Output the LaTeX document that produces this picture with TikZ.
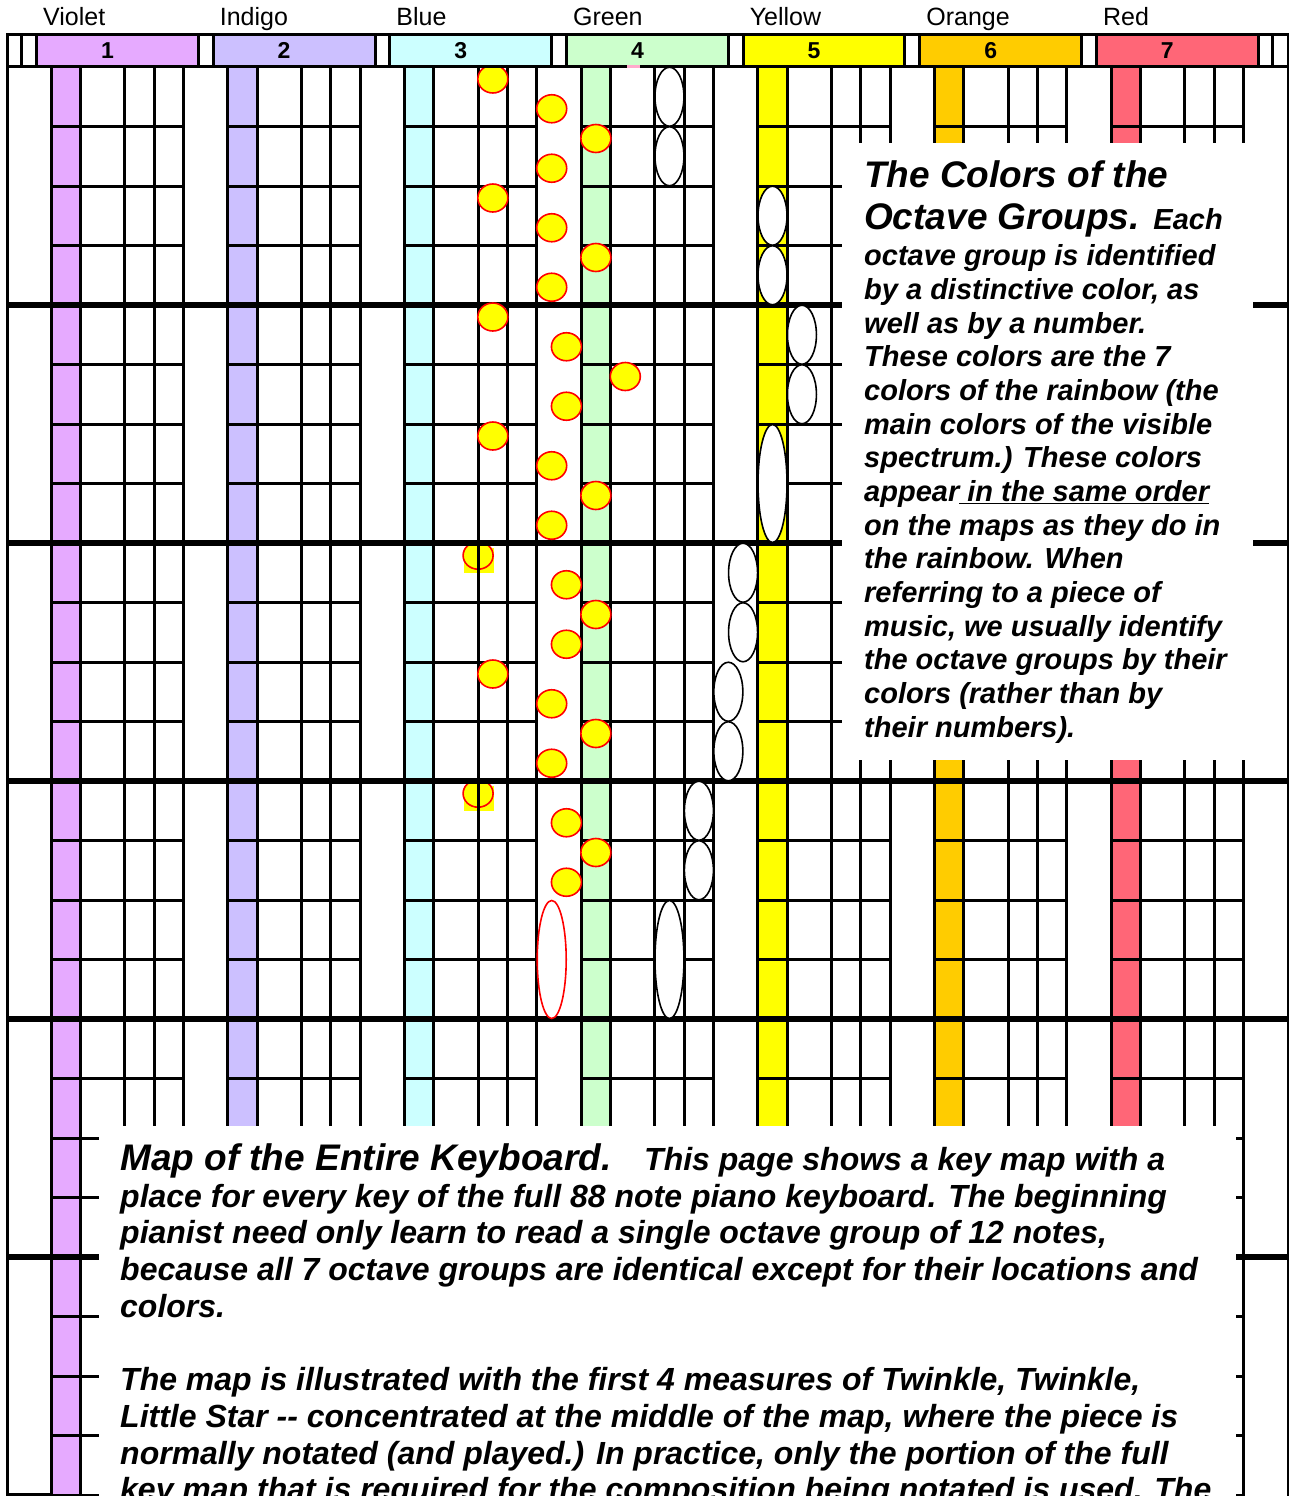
\documentclass[tikz,border=0pt]{standalone}
\usepackage{fontspec}
\setmainfont{Liberation Sans}
\usetikzlibrary{shapes.geometric}
\definecolor{cviolet}{HTML}{E6AAFF}
\definecolor{cindigo}{HTML}{CCC0FF}
\definecolor{cblue}{HTML}{CCFFFF}
\definecolor{cgreen}{HTML}{CCFFCC}
\definecolor{cyellow}{HTML}{FFFF00}
\definecolor{corange}{HTML}{FFCC00}
\definecolor{cred}{HTML}{FF6677}
\definecolor{cpink}{HTML}{FFAACC}
\begin{document}
\begin{tikzpicture}[x=1pt,y=-1pt,
  gl/.style={line width=3pt},
  gthick/.style={line width=6pt},
  eighthnote/.style={fill=cyellow,draw=red,line width=1.6pt},
  melnote/.style={fill=white,draw=black,line width=1.6pt},
  halfred/.style={fill=white,draw=red,line width=1.6pt},
  lbl/.style={anchor=base west,inner sep=0pt,font=\fontsize{25}{30}\selectfont},
  dig/.style={anchor=base,inner sep=0pt,font=\bfseries\fontsize{23}{28}\selectfont},
  rtxt/.style={anchor=base west,inner sep=0pt,font=\bfseries\itshape\fontsize{29}{33}\selectfont},
  btxt/.style={anchor=base west,inner sep=0pt,font=\bfseries\itshape\fontsize{32}{36}\selectfont},
  ttl/.style={anchor=base west,inner sep=0pt,font=\bfseries\itshape\fontsize{37}{40}\selectfont}]
\useasboundingbox (0,0) rectangle (1289,1496);
\clip (0,0) rectangle (1289,1496);
\fill[white] (0,0) rectangle (1289,1496);
% coloured bands
\foreach \o/\c in {0/cviolet,1/cindigo,2/cblue,3/cgreen,4/cyellow,5/corange,6/cred}
  \fill[\c] ({36.5+14.72*(12*\o+1)},67) rectangle ({36.5+14.72*(12*\o+3)},1497);
% F#3 notes (under the grid)
\foreach \yc in {555.5,793.5} {
  \fill[cyellow] (463.5,{\yc-8}) rectangle (493.5,{\yc+17.5});
  \filldraw[eighthnote] (478.1,\yc) ellipse [x radius=15,y radius=13.7];
}
% vertical lines
\foreach \o in {0,...,6} \foreach \n in {1,3,6,8,10}
  \draw[gl] ({36.5+14.72*(12*\o+\n)},67) -- ({36.5+14.72*(12*\o+\n)},1497);
\draw[gl] (7,35) -- (7,1497);
% thin horizontal lines
\foreach \r in {1,2,3,5,6,7,9,10,11,13,14,15,17,18,19,21,22,23,24} \foreach \o in {0,...,6}
  \draw[gl,line cap=rect] ({36.5+14.72*(12*\o+1)},{67+59.5*\r}) -- ({36.5+14.72*(12*\o+10)},{67+59.5*\r});
\draw[gl] (7,1494.5) -- (52,1494.5);
% thick lines
\foreach \r in {4,8,12,16,20}
  \draw[gthick] (7,{67+59.5*\r}) -- (1288,{67+59.5*\r});
% eighth notes
\foreach \s/\k in {0/31,1/35,2/38,3/35,4/31,5/35,6/38,7/35,8/31,9/36,10/40,11/36,12/31,13/35,14/38,15/35,17/36,18/38,19/36,20/31,21/35,22/38,23/35,25/36,26/38,27/36}
  \filldraw[eighthnote] ({36.5+14.72*\k},{79+29.75*\s}) ellipse [x radius=15,y radius=14];
% melody quarters
\foreach \r/\k in {0/43,1/43,2/50,3/50,4/52,5/52,8/48,9/48,10/47,11/47,12/45,13/45}
  \filldraw[melnote] ({36.5+14.72*\k},{67+59.5*(\r+0.5)}) ellipse [x radius=14.5,y radius=29.5];
% melody halves
\foreach \r/\k in {6/50,14/43}
  \filldraw[melnote] ({36.5+14.72*\k},{67+59.5*(\r+1)}) ellipse [x radius=14.5,y radius=59];
\filldraw[halfred] (551.7,959.5) ellipse [x radius=14.5,y radius=59];
% text boxes
\fill[white] (842,143) rectangle (1253,760);
\fill[white] (99,1126) rectangle (1236,1500);
\draw[gl] (1288,35) -- (1288,1497);
% header
\fill[white] (7,35) rectangle (1288,67);
\foreach \o/\c in {0/cviolet,1/cindigo,2/cblue,3/cgreen,4/cyellow,5/corange,6/cred}
  \fill[\c] ({36.5+14.72*12*\o},35) rectangle ({36.5+14.72*(12*\o+11)},67);
\foreach \k in {-1,0,11,12,23,24,35,36,47,48,59,60,71,72,83,84}
  \draw[gl] ({36.5+14.72*\k},35) -- ({36.5+14.72*\k},67);
\draw[gl] (7,35) rectangle (1288,67);
\fill[cpink] (627,65.5) rectangle (640,68.5);
% header labels
\foreach \o/\t in {0/Violet,1/Indigo,2/Blue,3/Green,4/Yellow,5/Orange,6/Red}
  \node[lbl] (lab\o) at ({36.5+14.72*12*\o+6.5},26) {\t};
\foreach \o in {0,...,6}
  \node[dig] (num\o) at ({36.5+14.72*12*\o+71},58.5) {\the\numexpr\o+1\relax};
% right text box
\node[ttl] (r1) at (864,187) {The Colors of the};
\node[ttl] (r2) at (864,229.5) {Octave Groups. {\fontsize{29}{33}\selectfont Each}};
\node[rtxt] (r3) at (864,265.7) {octave group is identified};
\node[rtxt] (r4) at (864,299.4) {by a distinctive color, as};
\node[rtxt] (r5) at (864,333) {well as by a number.};
\node[rtxt] (r6) at (864,366.7) {These colors are the 7};
\node[rtxt] (r7) at (864,400.3) {colors of the rainbow (the};
\node[rtxt] (r8) at (864,434) {main colors of the visible};
\node[rtxt] (r9) at (864,467.6) {spectrum.) These colors};
\node[rtxt] (r10) at (864,501.3) {appear\underline{ in the same order}};
\node[rtxt] (r11) at (864,535) {on the maps as they do in};
\node[rtxt] (r12) at (864,568.6) {the rainbow. When};
\node[rtxt] (r13) at (864,602.3) {referring to a piece of};
\node[rtxt] (r14) at (864,636) {music, we usually identify};
\node[rtxt] (r15) at (864,669.6) {the octave groups by their};
\node[rtxt] (r16) at (864,703.3) {colors (rather than by};
\node[rtxt] (r17) at (864,737) {their numbers).};
% bottom text box
\node[ttl] (b1) at (120,1170) {Map of the Entire Keyboard.};
\node[btxt] (b1b) at (644,1170) {This page shows a key map with a};
\node[btxt] (b2) at (120,1207) {place for every key of the full 88 note piano keyboard. The beginning};
\node[btxt] (b3) at (120,1243.5) {pianist need only learn to read a single octave group of 12 notes,};
\node[btxt] (b4) at (120,1280) {because all 7 octave groups are identical except for their locations and};
\node[btxt] (b5) at (120,1317) {colors.};
\node[btxt] (b6) at (120,1390.5) {The map is illustrated with the first 4 measures of Twinkle, Twinkle,};
\node[btxt] (b7) at (120,1427) {Little Star -{}- concentrated at the middle of the map, where the piece is};
\node[btxt] (b8) at (120,1464) {normally notated (and played.) In practice, only the portion of the full};
\node[btxt] (b9) at (120,1500.7) {key map that is required for the composition being notated is used. The};
\end{tikzpicture}
\end{document}
